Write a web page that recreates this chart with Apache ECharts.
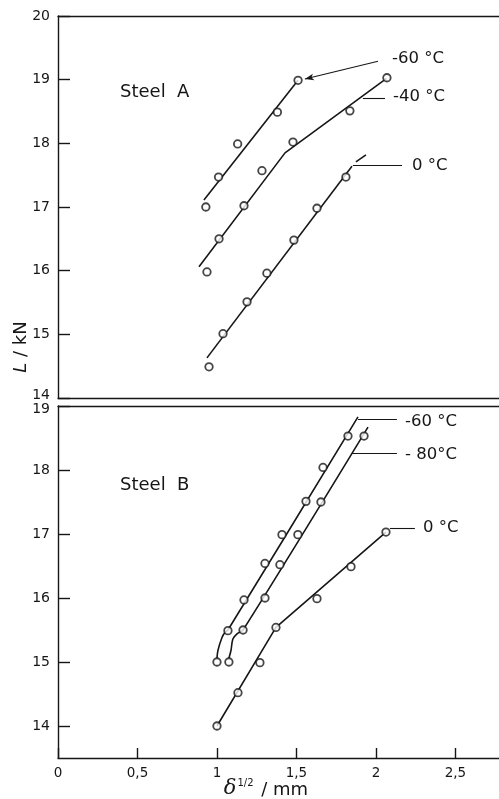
<!DOCTYPE html>
<html><head><meta charset="utf-8">
<script src="https://cdn.jsdelivr.net/npm/echarts@6/dist/echarts.min.js"></script>
<style>html,body{margin:0;padding:0;background:#fff}#c{width:499px;height:799px}</style>
</head><body><div id="c"></div>
<script>
// ---------- data (δ^1/2 in mm, L in kN) ----------
const xTicks = [0, 0.5, 1, 1.5, 2, 2.5];
const yTicksA = [14, 15, 16, 17, 18, 19, 20];
const yTicksB = [14, 15, 16, 17, 18, 19];

// Steel A
const A_m60 = [[0.93,17.0],[1.01,17.47],[1.13,17.99],[1.38,18.49],[1.51,18.99]];
const A_m60_fit = [[0.918,17.11],[1.51,18.99]];
const A_m40 = [[0.937,15.98],[1.013,16.5],[1.17,17.02],[1.283,17.57],[1.478,18.02],[1.836,18.51],[2.069,19.03]];
const A_m40_fit = [[0.887,16.06],[1.428,17.85],[2.067,19.02]];
const A_0 = [[0.95,14.49],[1.038,15.01],[1.189,15.51],[1.314,15.96],[1.484,16.48],[1.629,16.98],[1.811,17.47]];
const A_0_fit = [[0.937,14.63],[1.849,17.64]];
const A_0_ext = [[1.874,17.71],[1.937,17.82]];

// Steel B
const B_m60 = [[1.0,15.0],[1.069,15.49],[1.17,15.97],[1.302,16.54],[1.409,16.99],[1.56,17.51],[1.667,18.04],[1.824,18.53]];
const B_m60_fit = [[1.0,15.06],[1.006,15.18],[1.031,15.38],[1.05,15.46],[1.069,15.5],[1.887,18.83]];
const B_m80 = [[1.075,15.0],[1.164,15.5],[1.302,16.0],[1.396,16.52],[1.509,16.99],[1.654,17.5],[1.925,18.53]];
const B_m80_fit = [[1.075,15.06],[1.088,15.18],[1.1,15.36],[1.126,15.44],[1.164,15.5],[1.95,18.67]];
const B_0 = [[1.0,14.0],[1.132,14.52],[1.27,14.99],[1.371,15.54],[1.629,15.99],[1.843,16.49],[2.063,17.03]];
const B_0_fit = [[1.0,14.0],[1.371,15.54],[2.063,17.03]];

// leader lines (data coordinates)
const A_leaders = [
  [[2.013,19.29],[1.553,19.01], true],
  [[1.918,18.71],[2.057,18.71], false],
  [[1.855,17.66],[2.164,17.66], false]
];
const B_leaders = [
  [[1.887,18.80],[2.132,18.80], false],
  [[1.849,18.26],[2.132,18.26], false],
  [[2.088,17.09],[2.245,17.09], false]
];

// ---------- chart ----------
const INK = '#161616';
const FONT = '"DejaVu Sans", sans-serif';
const chart = echarts.init(document.getElementById('c'), null, {renderer:'canvas'});

function lineAxisX(gi, pos, labels) {
  return {
    type:'value', gridIndex:gi, position:pos, min:0, max:2.774,
    axisLine:{show:true, onZero:false, lineStyle:{color:INK, width:1.4}},
    axisTick: labels ? {show:true, inside:true, length:10, customValues:xTicks, lineStyle:{color:INK, width:1.4}} : {show:false},
    axisLabel: labels ? {show:true, customValues:xTicks, margin:8, color:INK, fontSize:13.5, fontFamily:FONT,
      formatter: v => String(v).replace('.', ',')} : {show:false},
    splitLine:{show:false}
  };
}

function scatterS(data, xi, yi) {
  return {type:'scatter', xAxisIndex:xi, yAxisIndex:yi, data:data, symbol:'circle', symbolSize:7.5,
    itemStyle:{color:'#fff', borderColor:INK, borderWidth:1.8}, z:5, silent:true};
}
function lineS(data, xi, yi, smooth, leaders) {
  const s = {type:'line', xAxisIndex:xi, yAxisIndex:yi, data:data, showSymbol:false, symbol:'none',
    smooth: smooth || false, lineStyle:{color:INK, width:1.6}, z:3, silent:true};
  if (leaders) {
    s.markLine = {
      silent:true, animation:false, label:{show:false},
      lineStyle:{color:INK, width:1.1, type:'solid'},
      emphasis:{disabled:true},
      data: leaders.map(l => [
        {coord:l[0], symbol:'none'},
        {coord:l[1], symbol: l[2] ? 'arrow' : 'none', symbolSize: l[2] ? [5,9] : 0}
      ])
    };
  }
  return s;
}

function txt(x, y, t, size) {
  return {type:'text', x:x, y:y, style:{text:t, fill:INK, font: size + 'px ' + FONT,
    textAlign:'left', textVerticalAlign:'middle'}};
}

const option = {
  animation:false,
  backgroundColor:'#fff',
  grid:[
    {left:58, top:16, width:441, height:382},
    {left:58, top:406, width:441, height:352}
  ],
  xAxis:[
    lineAxisX(0,'bottom',false),
    lineAxisX(0,'top',false),
    lineAxisX(1,'bottom',true),
    lineAxisX(1,'top',false)
  ],
  yAxis:[
    {type:'value', gridIndex:0, min:14, max:20, interval:1,
      axisLine:{show:true, lineStyle:{color:INK, width:1.4}},
      axisTick:{show:true, inside:true, length:12, lineStyle:{color:INK, width:1.4}},
      axisLabel:{color:INK, fontSize:14, fontFamily:FONT, margin:8,
        formatter: v => v === 14 ? '{lo|14}' : String(v),
        rich:{lo:{fontSize:14, fontFamily:FONT, color:INK, padding:[0,0,6,0]}}},
      splitLine:{show:false}},
    {type:'value', gridIndex:1, min:13.5, max:19,
      axisLine:{show:true, lineStyle:{color:INK, width:1.4}},
      axisTick:{show:true, inside:true, length:12, customValues:yTicksB, lineStyle:{color:INK, width:1.4}},
      axisLabel:{color:INK, fontSize:14, fontFamily:FONT, margin:8, customValues:yTicksB,
        formatter: v => v === 19 ? '{hi|19}' : String(v),
        rich:{hi:{fontSize:14, fontFamily:FONT, color:INK, padding:[6,0,0,0]}}},
      splitLine:{show:false}}
  ],
  series:[
    lineS(A_m60_fit,0,0,false,A_leaders),
    lineS(A_m40_fit,0,0),
    lineS(A_0_fit,0,0),
    lineS(A_0_ext,0,0),
    scatterS(A_m60,0,0), scatterS(A_m40,0,0), scatterS(A_0,0,0),
    lineS(B_m60_fit,2,1,0.3,B_leaders),
    lineS(B_m80_fit,2,1,0.3),
    lineS(B_0_fit,2,1),
    scatterS(B_m60,2,1), scatterS(B_m80,2,1), scatterS(B_0,2,1)
  ],
  graphic:[
    txt(392,59,'-60 °C',16.5),
    txt(393,97,'-40 °C',16.5),
    txt(412,166,'0 °C',16.5),
    txt(120,92,'Steel  A',18),
    txt(120,485,'Steel  B',18),
    txt(405,422,'-60 °C',16.5),
    txt(405,455,'- 80°C',16.5),
    txt(423,528,'0 °C',16.5),
    {type:'text', x:21, y:347, rotation:Math.PI/2,
      style:{text:'{i|L} / kN', fill:INK, font:'18px ' + FONT, textAlign:'center', textVerticalAlign:'middle',
        rich:{i:{fontStyle:'italic', fontSize:18, fontFamily:FONT, fill:INK}}}},
    {type:'text', x:266, y:789,
      style:{text:'{d|δ}{s|1/2}{n| / mm}', fill:INK, textAlign:'center', textVerticalAlign:'middle',
        rich:{
          d:{fontStyle:'italic', fontFamily:'"DejaVu Serif", serif', fontSize:21, fill:INK, verticalAlign:'bottom'},
          s:{fontFamily:FONT, fontSize:10, fill:INK, verticalAlign:'top', padding:[0,2,0,1]},
          n:{fontFamily:FONT, fontSize:18, fill:INK, verticalAlign:'bottom'}
        }}}
  ]
};
chart.setOption(option);
</script>
</body></html>
